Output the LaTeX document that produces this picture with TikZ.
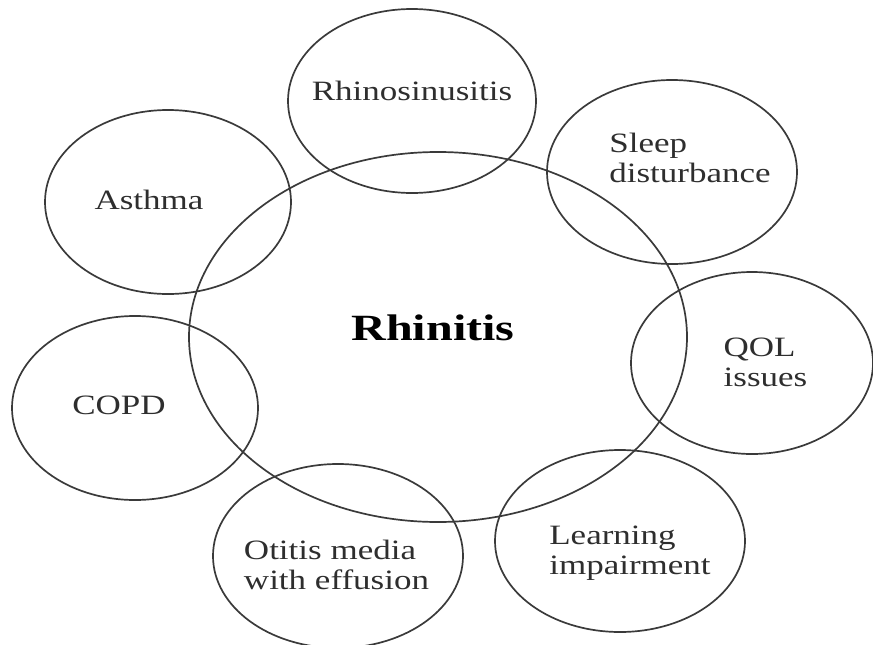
\documentclass[tikz,border=0pt]{standalone}
\usepackage{fontspec}
\setmainfont{Liberation Serif}[FakeStretch=1.25]
\newfontfamily\centerfont{Liberation Serif}[FakeStretch=1.3]
\usetikzlibrary{shapes.geometric}
\definecolor{linegray}{HTML}{3A3A3A}
\definecolor{textgray}{HTML}{2E2E2E}
\begin{document}
\begin{tikzpicture}[x=1pt,y=-1pt,
  ring/.style={draw=linegray,line width=1.7pt,ellipse,inner sep=0pt},
  lbl/.style={text=textgray,inner sep=0pt,align=left,font=\fontsize{28}{30}\selectfont},
  hub/.style={text=black,inner sep=0pt,font=\centerfont\bfseries\fontsize{37}{40}\selectfont}]
\useasboundingbox (0,0) rectangle (873,645);
% central ellipse
\node[ring,minimum width=498pt,minimum height=370pt] (rh) at (438,337) {};
% satellites
\node[ring,minimum width=248pt,minimum height=184pt] (sinus) at (412,101) {};
\node[ring,minimum width=250pt,minimum height=184pt] (sleep) at (672,172) {};
\node[ring,minimum width=246pt,minimum height=184pt] (asthma) at (168,202) {};
\node[ring,minimum width=246pt,minimum height=184pt] (copd) at (135,408) {};
\node[ring,minimum width=242pt,minimum height=182pt] (qol) at (752,363) {};
\node[ring,minimum width=250pt,minimum height=182pt] (learn) at (620,541) {};
\node[ring,minimum width=250pt,minimum height=184pt] (otitis) at (338,556) {};
% labels
\node[hub,anchor=base] (trh) at (433,340) {Rhinitis};
\node[lbl,anchor=base] (tsinus) at (412,100) {Rhinosinusitis};
\node[lbl,anchor=base] (tasthma) at (149,209) {Asthma};
\node[lbl,anchor=base] (tcopd) at (119,414) {COPD};
\node[lbl] (tsleep) at (690,157.5) {Sleep\\disturbance};
\node[lbl] (tqol) at (765.5,362.5) {QOL\\issues};
\node[lbl] (tlearn) at (630,553.5) {Learning\\impairment};
\node[lbl] (totitis) at (336.5,564.5) {Otitis media\\with effusion};
\end{tikzpicture}
\end{document}
